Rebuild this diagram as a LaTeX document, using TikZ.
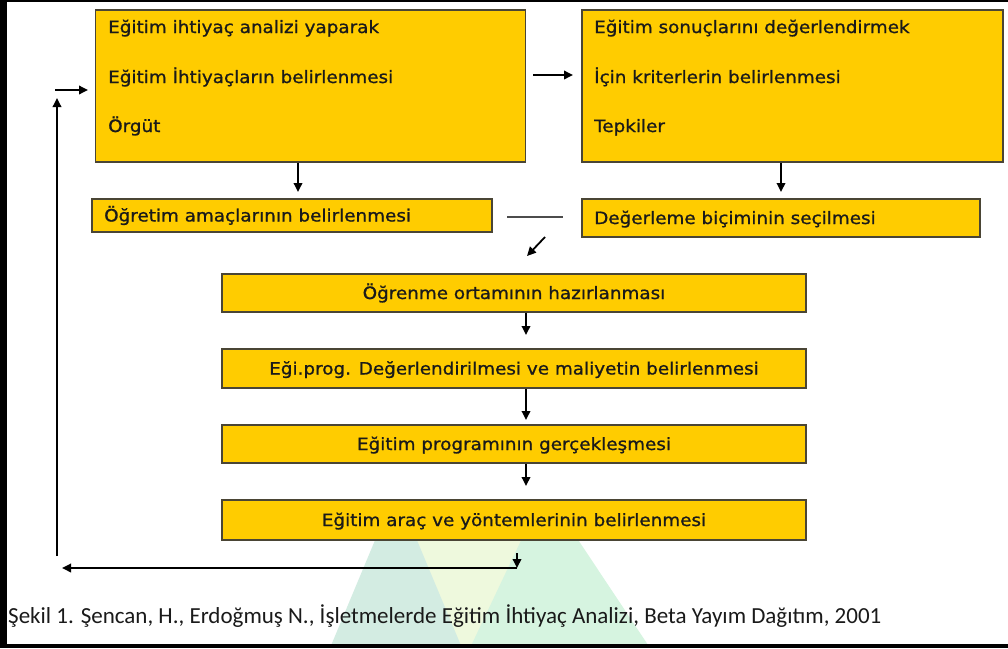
\documentclass[tikz,border=0pt]{standalone}
\usepackage{fontspec}
\usetikzlibrary{arrows.meta}
\newfontfamily\boxfont[FakeStretch=1.08,FakeBold=1]{DejaVu Sans}
\newfontfamily\capfont{Carlito}
\definecolor{boxfill}{HTML}{FFCC00}
\definecolor{boxline}{HTML}{4A4535}
\definecolor{txt}{HTML}{1A1A1A}
\definecolor{wmteal}{HTML}{D3ECE2}
\definecolor{wmyel}{HTML}{EEF9DD}
\definecolor{wmmint}{HTML}{D6F4E0}
\begin{document}
\begin{tikzpicture}[x=1pt,y=-1pt,
  box/.style={draw=boxline,line width=1.4pt,fill=boxfill,inner sep=0pt,minimum width=#1},
  btext/.style={font=\boxfont\fontsize{17}{20}\selectfont,text=txt,inner sep=0pt},
  arr/.style={draw=black,line width=1.8pt,-{Triangle[length=9pt,width=8.5pt]}},
  thin/.style={draw=black!70,line width=1.2pt}]
\useasboundingbox (0,0) rectangle (1008,648);
\fill[white] (0,0) rectangle (1008,648);
% watermark
\begin{scope}
\clip (0,541) rectangle (1008,644);
\fill[wmyel] (396,490) -- (545,490) -- (600,648) -- (340,648) -- cycle;
\fill[wmteal] (396,490) -- (462,648) -- (330,648) -- cycle;
\fill[wmmint] (545,490) -- (650,648) -- (470,648) -- cycle;
\end{scope}
% frame
\fill[black] (0,0) rectangle (7,648);
\fill[black] (0,0) rectangle (1008,2);
\fill[black] (0,644) rectangle (1008,648);
% boxes
\node[box=430pt,minimum height=152pt] (b1) at (310.5,86) {};
\node[box=421pt,minimum height=152pt] (b2) at (792.5,86) {};
\node[box=400pt,minimum height=33pt] (b3) at (292,215.5) {};
\node[box=398pt,minimum height=38pt] (b4) at (781,218) {};
\node[box=584pt,minimum height=38pt] (b5) at (514,293) {};
\node[box=584pt,minimum height=39pt] (b6) at (514,368.5) {};
\node[box=584pt,minimum height=38pt] (b7) at (514,444) {};
\node[box=584pt,minimum height=40pt] (b8) at (514,520) {};
% texts
\node[btext,anchor=base west] (t11) at (108,33) {Eğitim ihtiyaç analizi yaparak};
\node[btext,anchor=base west] (t12) at (108,83) {Eğitim İhtiyaçların belirlenmesi};
\node[btext,anchor=base west] (t13) at (108,132) {Örgüt};
\node[btext,anchor=base west] (t21) at (594,33) {Eğitim sonuçlarını değerlendirmek};
\node[btext,anchor=base west] (t22) at (594,83) {İçin kriterlerin belirlenmesi};
\node[btext,anchor=base west] (t23) at (594,132) {Tepkiler};
\node[btext,anchor=base west] (t3) at (104,221.5) {Öğretim amaçlarının belirlenmesi};
\node[btext,anchor=base west] (t4) at (594,224) {Değerleme biçiminin seçilmesi};
\node[btext,anchor=base] (t5) at (514,299) {Öğrenme ortamının hazırlanması};
\node[btext,anchor=base] (t6) at (514,374.5) {Eği.prog. Değerlendirilmesi ve maliyetin belirlenmesi};
\node[btext,anchor=base] (t7) at (514,450) {Eğitim programının gerçekleşmesi};
\node[btext,anchor=base] (t8) at (514,526) {Eğitim araç ve yöntemlerinin belirlenmesi};
% caption
\node[font=\capfont\fontsize{23}{26}\selectfont,text=txt,anchor=base west,inner sep=0pt] (cap) at (8,623)
  {Şekil 1. Şencan, H., Erdoğmuş N., İşletmelerde Eğitim İhtiyaç Analizi, Beta Yayım Dağıtım, 2001};
% connectors
\coordinate (a1) at (298,192);
\coordinate (a2) at (781,192);
\draw[arr] (a1 |- b1.south) -- (a1);
\draw[arr] (a2 |- b2.south) -- (a2);
\coordinate (m1) at (533,75);
\coordinate (m2) at (573,75);
\draw[arr] (m1) -- (m2);
\coordinate (l1) at (507,217);
\coordinate (l2) at (563,217);
\draw[thin] (l1) -- (l2);
\coordinate (d1) at (545,237);
\coordinate (d2) at (527,256);
\draw[arr] (d1) -- (d2);
\coordinate (c5) at (526,335);
\coordinate (c6) at (526,420);
\coordinate (c7) at (526,486);
\draw[arr] (c5 |- b5.south) -- (c5);
\draw[arr] (c6 |- b6.south) -- (c6);
\draw[arr] (c7 |- b7.south) -- (c7);
\coordinate (f0) at (517,553);
\coordinate (f1) at (517,568);
\coordinate (f2) at (62,568);
\coordinate (f3) at (57,556);
\coordinate (f4) at (57,98);
\coordinate (f5) at (55,90);
\coordinate (f6) at (88,90);
\draw[arr] (f0) -- (f1);
\draw[arr] (f1) -- (f2);
\draw[arr] (f3) -- (f4);
\draw[arr] (f5) -- (f6);
\end{tikzpicture}
\end{document}
